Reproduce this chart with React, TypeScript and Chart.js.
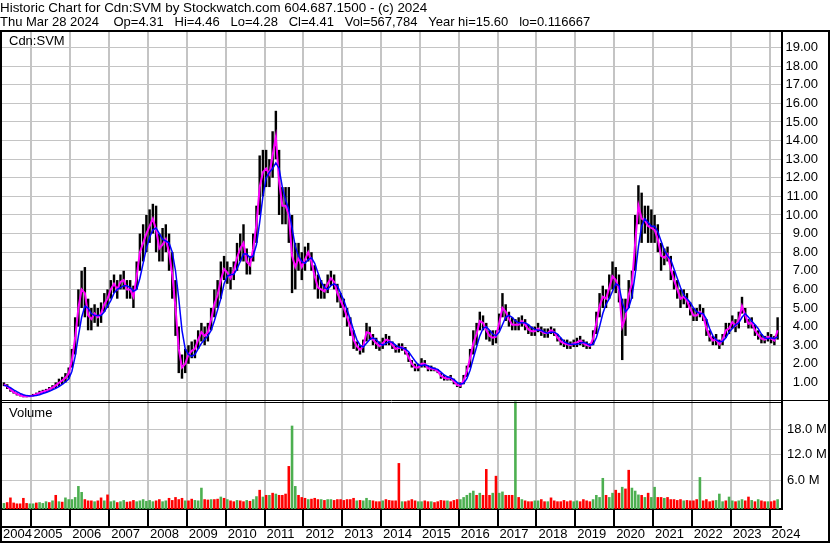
import React, { useEffect, useRef } from 'react';
import { Chart, registerables } from 'chart.js';

Chart.register(...registerables);

const FONT = 'Arial, "Liberation Sans", Helvetica, sans-serif';

const TITLE_LINE_1 = 'Historic Chart for Cdn:SVM by Stockwatch.com 604.687.1500 - (c) 2024';
const TITLE_LINE_2 =
  'Thu Mar 28 2024    Op=4.31   Hi=4.46   Lo=4.28   Cl=4.41   Vol=567,784   Year hi=15.60   lo=0.116667';
const PRICE_LABEL = 'Cdn:SVM';
const VOLUME_LABEL = 'Volume';

// first month shown: April 2004, monthly samples through March 2024
const FIRST_YEAR = 2004;
const FIRST_MONTH_INDEX = 3;

const YEAR_TICKS = [2005, 2006, 2007, 2008, 2009, 2010, 2011, 2012, 2013, 2014, 2015, 2016, 2017, 2018, 2019, 2020, 2021, 2022, 2023, 2024];
const PRICE_TICKS = [1, 2, 3, 4, 5, 6, 7, 8, 9, 10, 11, 12, 13, 14, 15, 16, 17, 18, 19];
const VOLUME_TICKS = [6e6, 12e6, 18e6];

const monthlyLow = [
  0.80, 0.65, 0.50, 0.40, 0.30, 0.25, 0.20, 0.20, 0.22,
  0.25, 0.30, 0.35, 0.40, 0.45, 0.55, 0.60, 0.70, 0.80, 0.90, 1.00, 1.20,
  1.80, 2.50, 4.00, 5.00, 4.50, 3.80, 3.80, 4.20, 4.00, 4.20, 4.80, 5.00,
  5.50, 5.80, 5.50, 6.00, 6.00, 5.50, 5.50, 5.00, 6.00, 7.00, 7.50, 8.00,
  8.50, 9.00, 8.00, 7.50, 7.50, 8.00, 7.00, 5.50, 3.50, 1.50, 1.20, 1.50,
  2.00, 2.30, 2.30, 2.80, 3.20, 3.00, 3.20, 3.80, 4.50, 5.00, 5.50, 6.50,
  6.30, 6.00, 6.50, 7.00, 7.50, 7.50, 6.80, 6.80, 7.50, 8.50, 10.00, 11.00,
  11.50, 11.50, 12.00, 13.00, 10.00, 9.50, 9.50, 8.50, 5.80, 6.00, 7.00, 6.50,
  7.00, 7.50, 7.00, 6.00, 5.50, 5.50, 5.50, 5.80, 6.20, 6.00, 5.30, 5.00,
  4.50, 4.00, 3.50, 2.80, 2.70, 2.50, 2.60, 3.20, 3.30, 3.00, 2.80, 2.70,
  2.80, 3.00, 3.00, 2.80, 2.60, 2.60, 2.70, 2.50, 2.10, 1.80, 1.60, 1.60,
  1.80, 1.80, 1.60, 1.60, 1.60, 1.50, 1.20, 1.10, 1.10, 1.10, 0.90, 0.75,
  0.70, 0.90, 1.30, 1.80, 2.50, 3.00, 3.80, 3.80, 3.30, 3.20, 3.00, 3.10,
  3.80, 4.50, 4.30, 4.00, 3.80, 3.80, 3.80, 4.00, 3.80, 3.60, 3.50, 3.50,
  3.70, 3.50, 3.40, 3.40, 3.60, 3.50, 3.20, 3.00, 2.90, 2.80, 2.80, 2.90,
  2.90, 3.00, 2.90, 2.80, 2.80, 3.00, 3.60, 4.50, 5.00, 5.00, 5.50, 6.00,
  5.80, 5.30, 2.20, 3.50, 5.00, 5.50, 7.00, 9.50, 8.50, 9.00, 8.50, 8.50,
  8.50, 8.00, 7.00, 7.30, 7.50, 6.50, 6.00, 5.50, 5.00, 5.20, 5.00, 4.60,
  4.30, 4.30, 4.50, 4.30, 3.50, 3.20, 3.00, 3.00, 2.80, 3.00, 3.40, 3.60,
  3.90, 3.70, 3.90, 4.70, 4.20, 3.90, 3.90, 3.50, 3.30, 3.10, 3.10, 3.20,
  3.10, 3.00, 3.30,
];

const monthlyHigh = [
  1.00, 0.90, 0.70, 0.55, 0.45, 0.38, 0.32, 0.30, 0.32,
  0.38, 0.45, 0.55, 0.60, 0.65, 0.75, 0.85, 1.00, 1.20, 1.30, 1.50, 1.80,
  2.80, 4.50, 6.00, 7.00, 7.20, 5.50, 5.00, 5.20, 5.00, 5.30, 5.80, 6.00,
  6.50, 6.80, 6.50, 6.80, 7.00, 6.50, 6.50, 6.20, 7.50, 9.00, 9.50, 10.00,
  10.30, 10.60, 10.50, 9.00, 9.30, 9.50, 9.00, 8.00, 6.50, 4.00, 2.50, 2.80,
  3.00, 3.20, 3.30, 3.80, 4.20, 4.00, 4.20, 5.00, 6.00, 6.50, 7.50, 7.80,
  7.50, 7.20, 7.50, 8.50, 9.00, 9.50, 8.20, 7.80, 9.00, 10.50, 13.20, 13.50,
  13.50, 13.00, 14.50, 15.60, 13.50, 11.50, 11.50, 11.50, 10.00, 8.50, 8.50, 8.00,
  8.30, 8.50, 8.00, 7.30, 6.80, 6.50, 6.30, 6.80, 7.00, 6.80, 6.30, 5.80,
  5.50, 5.00, 4.50, 3.80, 3.20, 3.00, 3.30, 4.20, 4.00, 3.60, 3.40, 3.20,
  3.40, 3.60, 3.50, 3.20, 3.00, 3.10, 3.10, 2.90, 2.60, 2.20, 2.00, 2.00,
  2.30, 2.20, 1.90, 1.90, 1.80, 1.70, 1.50, 1.40, 1.30, 1.40, 1.20, 0.95,
  1.00, 1.40, 1.90, 2.80, 3.80, 4.20, 4.80, 4.60, 4.20, 3.80, 3.80, 3.80,
  4.70, 5.80, 5.20, 4.80, 4.50, 4.40, 4.50, 4.60, 4.40, 4.10, 4.00, 4.00,
  4.20, 4.00, 3.90, 3.90, 4.00, 3.90, 3.60, 3.40, 3.30, 3.30, 3.20, 3.30,
  3.40, 3.50, 3.30, 3.20, 3.10, 3.80, 4.80, 5.80, 6.20, 6.00, 6.80, 7.50,
  7.20, 6.80, 5.50, 5.50, 6.50, 7.00, 10.00, 11.60, 11.20, 10.50, 10.50, 10.30,
  10.00, 9.50, 8.50, 8.20, 8.30, 7.80, 7.00, 6.50, 6.00, 6.00, 5.80, 5.30,
  5.00, 5.00, 5.20, 5.00, 4.40, 3.80, 3.50, 3.60, 3.30, 3.60, 4.20, 4.20,
  4.60, 4.40, 4.80, 5.60, 5.00, 4.40, 4.50, 4.10, 3.80, 3.60, 3.50, 3.70,
  3.60, 3.50, 4.50,
];

const shortAverage = [
  0.90, 0.78, 0.62, 0.48, 0.38, 0.31, 0.26, 0.25, 0.26,
  0.30, 0.36, 0.44, 0.50, 0.55, 0.64, 0.72, 0.84, 0.98, 1.10, 1.25, 1.48,
  2.20, 3.40, 5.00, 6.00, 5.80, 4.60, 4.40, 4.70, 4.50, 4.70, 5.20, 5.50,
  6.00, 6.30, 6.00, 6.40, 6.50, 6.00, 6.00, 5.60, 6.70, 8.00, 8.50, 9.00,
  9.40, 9.80, 9.20, 8.20, 8.40, 8.70, 8.00, 6.80, 5.00, 2.80, 1.80, 2.00,
  2.50, 2.70, 2.80, 3.30, 3.70, 3.50, 3.70, 4.40, 5.20, 5.70, 6.50, 7.10,
  6.90, 6.60, 7.00, 7.70, 8.20, 8.50, 7.50, 7.30, 8.20, 9.50, 11.50, 12.30,
  12.50, 12.20, 13.20, 14.20, 11.80, 10.50, 10.50, 10.00, 7.80, 7.20, 7.70, 7.20,
  7.60, 8.00, 7.50, 6.70, 6.10, 6.00, 5.90, 6.30, 6.60, 6.40, 5.80, 5.40,
  5.00, 4.50, 4.00, 3.30, 2.95, 2.75, 2.95, 3.70, 3.65, 3.30, 3.10, 2.95,
  3.10, 3.30, 3.25, 3.00, 2.80, 2.85, 2.90, 2.70, 2.35, 2.00, 1.80, 1.80,
  2.00, 2.00, 1.75, 1.75, 1.70, 1.60, 1.35, 1.25, 1.20, 1.25, 1.05, 0.85,
  0.82, 1.10, 1.60, 2.30, 3.10, 3.60, 4.30, 4.20, 3.80, 3.50, 3.40, 3.45,
  4.20, 5.00, 4.80, 4.40, 4.10, 4.10, 4.10, 4.30, 4.10, 3.85, 3.75, 3.75,
  3.90, 3.75, 3.65, 3.65, 3.80, 3.70, 3.40, 3.20, 3.10, 3.05, 3.00, 3.10,
  3.15, 3.25, 3.10, 3.00, 2.95, 3.35, 4.20, 5.10, 5.60, 5.50, 6.10, 6.70,
  6.50, 6.00, 4.00, 4.50, 5.70, 6.30, 8.50, 10.50, 9.80, 9.70, 9.40, 9.30,
  9.20, 8.70, 7.80, 7.70, 7.90, 7.10, 6.50, 6.00, 5.50, 5.60, 5.40, 4.95,
  4.60, 4.60, 4.80, 4.60, 3.90, 3.50, 3.25, 3.30, 3.05, 3.30, 3.80, 3.90,
  4.25, 4.05, 4.35, 5.10, 4.60, 4.15, 4.20, 3.80, 3.55, 3.35, 3.30, 3.45,
  3.35, 3.25, 3.80,
];

const longAverage = [
  0.85, 0.80, 0.72, 0.60, 0.50, 0.41, 0.34, 0.29, 0.27,
  0.28, 0.30, 0.34, 0.40, 0.46, 0.52, 0.60, 0.68, 0.78, 0.90, 1.02, 1.18,
  1.60, 2.40, 3.50, 4.50, 5.10, 5.00, 4.70, 4.60, 4.60, 4.60, 4.80, 5.10,
  5.40, 5.80, 6.00, 6.10, 6.20, 6.20, 6.10, 5.90, 6.00, 6.60, 7.40, 8.20,
  8.80, 9.20, 9.30, 9.00, 8.70, 8.60, 8.50, 8.00, 7.00, 5.50, 3.80, 2.80,
  2.50, 2.40, 2.50, 2.80, 3.10, 3.30, 3.50, 3.80, 4.30, 4.90, 5.50, 6.30,
  6.70, 6.80, 6.80, 7.10, 7.50, 7.90, 7.90, 7.70, 7.80, 8.40, 9.60, 11.00,
  12.00, 12.30, 12.50, 12.80, 12.50, 11.50, 10.80, 10.30, 9.30, 8.30, 7.80, 7.50,
  7.40, 7.60, 7.70, 7.40, 6.90, 6.40, 6.10, 6.00, 6.20, 6.30, 6.20, 5.80,
  5.40, 4.90, 4.40, 3.80, 3.30, 3.00, 2.90, 3.10, 3.30, 3.40, 3.30, 3.10,
  3.00, 3.10, 3.20, 3.15, 3.00, 2.90, 2.85, 2.80, 2.65, 2.40, 2.15, 1.95,
  1.90, 1.95, 1.90, 1.80, 1.75, 1.70, 1.55, 1.40, 1.30, 1.25, 1.15, 1.00,
  0.90, 0.95, 1.20, 1.65, 2.30, 2.90, 3.50, 3.90, 4.00, 3.80, 3.60, 3.50,
  3.70, 4.10, 4.50, 4.60, 4.50, 4.30, 4.20, 4.20, 4.20, 4.10, 3.95, 3.85,
  3.80, 3.80, 3.70, 3.65, 3.70, 3.70, 3.60, 3.40, 3.20, 3.10, 3.05, 3.05,
  3.05, 3.10, 3.15, 3.10, 3.00, 3.05, 3.40, 4.00, 4.70, 5.20, 5.50, 5.90,
  6.30, 6.20, 5.30, 4.80, 5.00, 5.60, 6.80, 8.30, 9.40, 9.80, 9.60, 9.40,
  9.40, 9.10, 8.60, 8.10, 7.80, 7.60, 7.10, 6.60, 6.10, 5.70, 5.50, 5.30,
  5.00, 4.80, 4.70, 4.70, 4.40, 3.90, 3.50, 3.30, 3.20, 3.20, 3.40, 3.70,
  3.90, 4.10, 4.20, 4.50, 4.70, 4.50, 4.30, 4.10, 3.90, 3.60, 3.40, 3.35,
  3.40, 3.35, 3.45,
];

// millions of shares
const monthlyVolumeM = [
  0.6, 0.8, 1.9, 0.7, 0.5, 0.5, 1.8, 0.6, 0.5,
  0.5, 0.7, 0.8, 0.6, 1.0, 0.8, 1.2, 2.5, 1.0, 0.9, 1.9, 1.5,
  1.5, 2.0, 4.6, 3.2, 1.5, 1.2, 1.2, 1.0, 1.2, 1.9, 1.2, 2.6,
  1.0, 1.2, 0.8, 1.0, 1.3, 0.9, 1.0, 1.3, 1.0, 1.2, 1.5, 1.1,
  1.3, 1.0, 1.2, 1.5, 1.0, 1.2, 1.8, 1.3, 2.0, 1.5, 1.8, 1.2,
  1.2, 1.6, 1.3, 1.2, 4.2, 1.5, 1.4, 1.5, 1.5, 1.6, 2.1, 1.8,
  1.5, 1.2, 1.0, 1.3, 1.2, 1.0, 1.3, 1.1, 1.5, 2.2, 3.7, 2.1,
  2.5, 2.5, 3.0, 2.8, 2.5, 2.5, 2.8, 9.3, 18.8, 4.6, 2.5, 2.0,
  1.8, 1.5, 1.6, 1.8, 1.5, 1.5, 1.3, 1.5, 1.5, 1.3, 1.5, 1.5,
  1.3, 1.5, 1.5, 1.8, 1.2, 1.3, 1.2, 1.8, 1.3, 1.2, 1.0, 1.0,
  1.2, 1.5, 1.3, 1.2, 1.2, 10.0, 1.0, 1.0, 1.2, 1.5, 1.2, 1.0,
  1.0, 1.2, 1.0, 1.0, 0.8, 1.0, 1.3, 1.2, 1.2, 1.0, 1.3, 1.5,
  1.5, 2.0, 2.5, 3.0, 3.5, 2.5, 3.0, 2.5, 8.6, 2.5, 3.0, 7.0,
  3.0, 3.3, 2.5, 2.5, 2.5, 24.5, 2.0, 1.5, 1.2, 1.0, 1.0, 1.2,
  1.2, 1.5, 1.0, 1.0, 1.9, 1.2, 1.0, 1.0, 1.3, 1.0, 1.2, 1.0,
  1.2, 1.0, 1.5, 1.2, 1.0, 1.5, 2.5, 2.0, 6.5, 2.5, 2.0, 3.0,
  3.7, 3.0, 4.4, 4.0, 8.4, 4.2, 3.5, 2.6, 2.5, 2.0, 3.0, 2.0,
  4.4, 2.0, 2.0, 1.8, 2.0, 1.5, 1.5, 1.3, 1.5, 1.2, 1.3, 1.2,
  1.2, 1.5, 6.7, 1.2, 1.5, 1.0, 1.2, 1.3, 2.8, 1.0, 1.2, 2.1,
  1.2, 1.0, 1.2, 1.5, 1.2, 2.1, 1.3, 1.0, 1.5, 1.2, 1.0, 1.0,
  1.0, 1.2, 1.5,
];

// g = up (green) bar, r = down (red) bar, one letter per month
const volumeDirection = [
  'grrrrrrrg',
  'grgggrgrgrgg',
  'ggggrrrgrrgr',
  'ggrggrrrgggg',
  'ggrrggrrrrrg',
  'rrgggrrgrrgr',
  'grrgrrgrggrg',
  'rgrgrrrrggrr',
  'rgrrrgrggrrr',
  'rrrrgrgggrrr',
  'grrrrrgrrrrg',
  'grrgrrrrgrrr',
  'gggggrgrrrgr',
  'ggrrrgrgrrrg',
  'grrgrrrrrrrg',
  'grrrrggggrgg',
  'rrgrrgggrgrg',
  'grrgrrrrrgrr',
  'rrgrrrrgggrg',
  'grggrrgrgrrg',
  'rrg',
].join('');

// axis window (fractional years) and volume window
const X_MIN = 2004.2158;
const X_MAX = 2024.3214;
const PRICE_MAX = 19.89;
const VOL_MIN = -0.8e6;
const VOL_MAX = 24.6e6;

const GRID = '#c4c4c4';
const UP = '#4caf50';
const DOWN = '#ff0000';

const monthX = (i: number) => FIRST_YEAR + (FIRST_MONTH_INDEX + i + 0.5) / 12;

const framePlugin = {
  id: 'stockwatchFrame',
  // price labels are right-aligned inside a narrower column than the volume labels
  afterLayout(chart: any) {
    const s = chart.scales.y;
    s.right = s.left + 36;
    s.width = 36;
    s._labelItems = null;
  },
  afterDraw(chart: any) {
    const ctx = chart.ctx as CanvasRenderingContext2D;
    const area = chart.chartArea;
    const W = chart.width;
    const H = chart.height;
    const priceScale = chart.scales.y;
    const xScale = chart.scales.x;
    const sep = priceScale.bottom;
    const line = (x1: number, y1: number, x2: number, y2: number, w: number) => {
      ctx.lineWidth = w;
      ctx.beginPath();
      ctx.moveTo(x1, y1);
      ctx.lineTo(x2, y2);
      ctx.stroke();
    };
    ctx.save();
    ctx.strokeStyle = '#000';
    line(0, area.top, W, area.top, 2);
    line(1, area.top - 1, 1, H, 2);
    line(W - 1, area.top - 1, W - 1, H, 2);
    line(0, H - 1, W, H - 1, 2);
    line(area.left, sep - 0.5, area.right, sep - 0.5, 1);
    line(area.left, sep + 1.5, area.right, sep + 1.5, 1);
    line(area.right, sep - 0.5, W, sep - 0.5, 1);
    line(area.left, xScale.top + 18, area.right, xScale.top + 18, 2);
    ctx.fillStyle = '#000';
    ctx.font = `13px ${FONT}`;
    ctx.textAlign = 'left';
    ctx.textBaseline = 'middle';
    ctx.fillText(PRICE_LABEL, 9, area.top + 10.5);
    ctx.fillText(VOLUME_LABEL, 9, sep + 12);
    ctx.restore();
  },
};

export default function App() {
  const canvasRef = useRef<HTMLCanvasElement | null>(null);

  useEffect(() => {
    const canvas = canvasRef.current;
    if (!canvas) return;

    const hlData = monthlyLow.map((lo, i) => ({ x: monthX(i), y: [lo, monthlyHigh[i]] }));
    const shortData = shortAverage.map((v, i) => ({ x: monthX(i), y: v }));
    const longData = longAverage.map((v, i) => ({ x: monthX(i), y: v }));
    const volData = monthlyVolumeM.map((v, i) => ({ x: monthX(i), y: v * 1e6 }));
    const volColors = monthlyVolumeM.map((_, i) => (volumeDirection[i] === 'g' ? UP : DOWN));

    const chart = new Chart(canvas, {
      type: 'bar',
      data: {
        datasets: [
          {
            type: 'line',
            label: 'Long average',
            data: longData,
            borderColor: '#0000ff',
            borderWidth: 1.5,
            pointRadius: 0,
            yAxisID: 'y',
            order: 1,
          } as any,
          {
            type: 'line',
            label: 'Short average',
            data: shortData,
            borderColor: '#ff00ff',
            borderWidth: 2,
            pointRadius: 0,
            yAxisID: 'y',
            order: 2,
          } as any,
          {
            type: 'bar',
            label: 'High-Low',
            data: hlData,
            backgroundColor: '#000000',
            borderWidth: 0,
            barPercentage: 0.75,
            categoryPercentage: 1,
            grouped: false,
            yAxisID: 'y',
            order: 3,
          } as any,
          {
            type: 'bar',
            label: 'Volume',
            data: volData,
            backgroundColor: volColors,
            borderWidth: 0,
            barPercentage: 0.8,
            categoryPercentage: 1,
            grouped: false,
            base: VOL_MIN,
            yAxisID: 'yv',
            order: 4,
          } as any,
        ],
      },
      options: {
        responsive: false,
        devicePixelRatio: 1,
        animation: false,
        events: [],
        layout: { padding: { left: 0, right: 1, top: 0, bottom: 0 } },
        plugins: {
          legend: { display: false },
          tooltip: { enabled: false },
          title: {
            display: true,
            text: TITLE_LINE_1,
            align: 'start',
            color: '#000',
            font: { family: FONT, size: 13.4, weight: 'normal', lineHeight: '13.5px' } as any,
            padding: { top: 2, bottom: 0 },
          },
          subtitle: {
            display: true,
            text: TITLE_LINE_2,
            align: 'start',
            color: '#000',
            font: { family: FONT, size: 13, weight: 'normal', lineHeight: '13.5px' } as any,
            padding: { top: 0, bottom: 2 },
          },
        },
        scales: {
          x: {
            type: 'linear',
            min: X_MIN,
            max: X_MAX,
            offset: false,
            position: 'bottom',
            afterBuildTicks: (s: any) => {
              s.ticks = [X_MIN, ...YEAR_TICKS].map((v) => ({ value: v }));
            },
            afterFit: (s: any) => {
              s.height = 34;
            },
            grid: {
              color: GRID,
              lineWidth: 2,
              offset: false,
              drawTicks: true,
              tickLength: 17,
              tickColor: '#000',
              tickWidth: 2,
            },
            border: { display: true, color: '#000', width: 2 },
            ticks: {
              autoSkip: false,
              maxRotation: 0,
              minRotation: 0,
              align: 'start',
              labelOffset: 2,
              padding: 1,
              color: '#000',
              font: { family: FONT, size: 13 },
              callback: (v: any) => String(Math.floor(Number(v) + 1e-6)),
            },
          } as any,
          y: {
            type: 'linear',
            position: 'right',
            stack: 'panels',
            stackWeight: 370,
            min: 0,
            max: PRICE_MAX,
            offset: false,
            afterBuildTicks: (s: any) => {
              s.ticks = PRICE_TICKS.map((v) => ({ value: v }));
            },
            afterFit: (s: any) => {
              s.width = 47;
            },
            grid: { color: GRID, lineWidth: 1, drawTicks: false },
            border: { display: true, color: '#000', width: 2 },
            ticks: {
              autoSkip: false,
              crossAlign: 'far',
              padding: 4,
              color: '#000',
              font: { family: FONT, size: 13 },
              callback: (v: any) => Number(v).toFixed(2),
            },
          } as any,
          yv: {
            type: 'linear',
            position: 'right',
            stack: 'panels',
            stackWeight: 108,
            min: VOL_MIN,
            max: VOL_MAX,
            offset: false,
            afterBuildTicks: (s: any) => {
              s.ticks = VOLUME_TICKS.map((v) => ({ value: v }));
            },
            afterFit: (s: any) => {
              s.width = 47;
            },
            grid: { color: GRID, lineWidth: 1, drawTicks: false },
            border: { display: true, color: '#000', width: 2 },
            ticks: {
              autoSkip: false,
              crossAlign: 'near',
              padding: 5,
              color: '#000',
              font: { family: FONT, size: 13 },
              callback: (v: any) => (Number(v) / 1e6).toFixed(1) + ' M',
            },
          } as any,
        },
      },
      plugins: [framePlugin],
    });

    return () => chart.destroy();
  }, []);

  return (
    <div style={{ position: 'absolute', left: 0, top: 0, width: 830, height: 543, background: '#fff' }}>
      <canvas ref={canvasRef} width={830} height={543} style={{ display: 'block' }} />
    </div>
  );
}
